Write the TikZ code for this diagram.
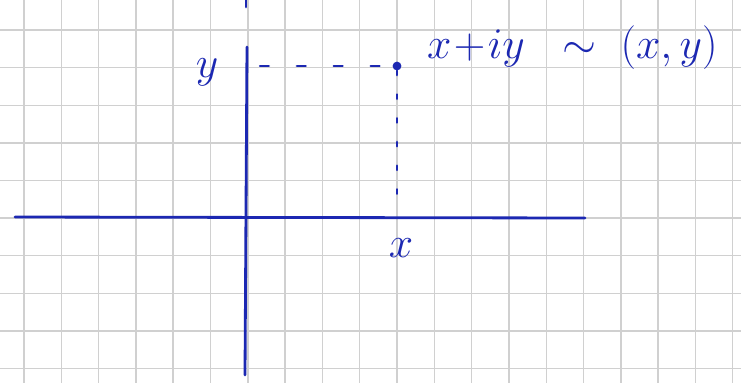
\documentclass[tikz,border=0pt]{standalone}
\usepackage{tikz}
\usetikzlibrary{positioning, calc}
\definecolor{InkBlue}{RGB}{28, 40, 178}
\definecolor{GridGray}{RGB}{208, 208, 208}

\begin{document}
\begin{tikzpicture}[x=0.02cm, y=-0.02cm,
    ink/.style={InkBlue, line width=1.6pt, line cap=round},
    inkdash/.style={InkBlue, line width=1.4pt, line cap=round, dash pattern=on 5pt off 16pt},
    inkdots/.style={InkBlue, line width=1.4pt, line cap=round, dash pattern=on 2.5pt off 11pt},
    handtext/.style={InkBlue, font=\Huge}]
    \useasboundingbox (0,0) rectangle (741,383);
    \fill[white] (0,0) rectangle (741,383);

    % Graph paper
    \foreach \k in {0,...,19}
        \draw[GridGray, line width=0.8pt] (24+37.3*\k, 0) -- (24+37.3*\k, 383);
    \foreach \k in {0,...,9}
        \draw[GridGray, line width=0.8pt] (0, 30+37.6*\k) -- (741, 30+37.6*\k);

    % Axes
    \coordinate (xleft) at (15,217);
    \coordinate (xright) at (585,218);
    \coordinate (ybottom) at (245,375);
    \coordinate (ytop) at (247,47);
    \coordinate (ytip) at (246,7);
    \coordinate (ytiptop) at (246,0);
    \draw[ink] (xleft) -- (xright);
    \draw[ink] (ybottom) -- (ytop);
    \draw[ink] (ytiptop) -- (ytip);

    % Point and its projections
    \node[circle, fill=InkBlue, inner sep=0pt, minimum size=5pt] (pt) at (397,66) {};
    \coordinate (py) at (260,66);
    \coordinate (px) at (397,196);
    \draw[inkdash] (py) -- (pt);
    \draw[inkdots] (pt) -- (px);

    % Labels
    \node[handtext] (ylab) at (207,72) {$y$};
    \node[handtext] (xlab) at (401,248) {$x$};
    \node[handtext, anchor=base west] (eq) at (421,58) {$x\!+\!iy\;\ \sim\;(x,y)$};
\end{tikzpicture}
\end{document}
